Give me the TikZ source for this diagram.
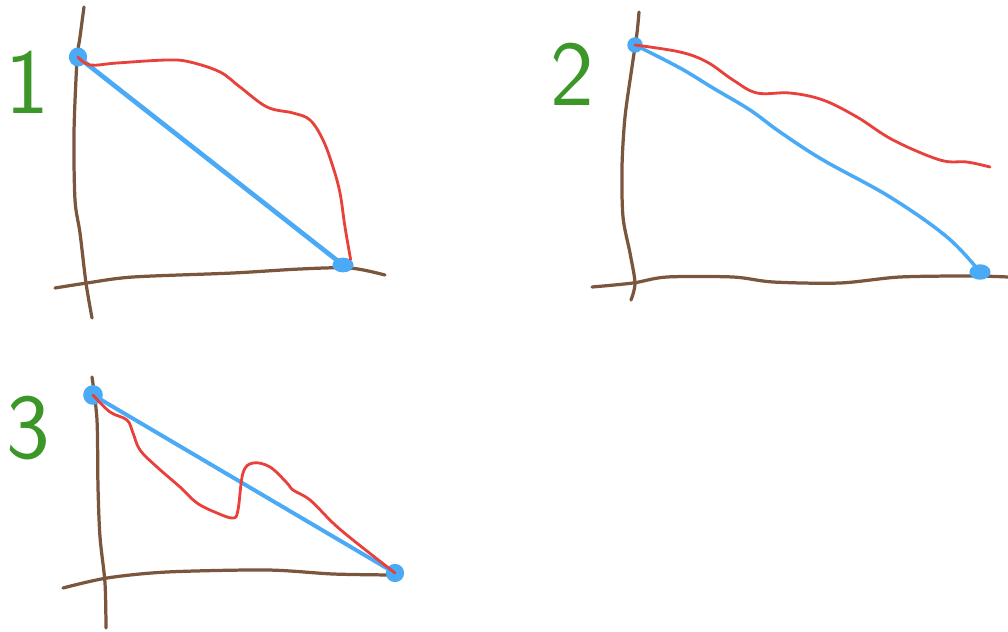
\documentclass[tikz,border=0pt]{standalone}
\usetikzlibrary{shapes.geometric}
\definecolor{axisbrown}{RGB}{122,86,60}
\definecolor{lineblue}{RGB}{74,170,245}
\definecolor{curvered}{RGB}{232,64,58}
\definecolor{numgreen}{RGB}{60,150,40}

\begin{document}
\begin{tikzpicture}[x=0.025cm,y=-0.025cm,
  axis/.style={draw=axisbrown,line width=2.3pt,line cap=round,line join=round},
  chord/.style={draw=lineblue,line width=3.3pt,line cap=round,line join=round},
  curve/.style={draw=curvered,line width=2pt,line cap=round,line join=round},
  enddot/.style={ellipse,fill=lineblue,inner sep=0pt},
  num/.style={text=numgreen,font=\sffamily\fontsize{66}{66}\selectfont}]
\useasboundingbox (0,0) rectangle (1008,632);

\node[num] (n1) at (27,82) {1};
\draw[axis] plot[smooth] coordinates {(84,7) (80,37) (77,60) (74,133) (75,200) (80,233) (86,283) (92,318)};
\draw[axis] plot[smooth] coordinates {(55,288) (87,283) (133,277) (233,273) (300,269) (350,268) (385,275)};
\node[enddot,minimum width=13pt,minimum height=13.5pt] (a1) at (78,57) {};
\node[enddot,minimum width=15pt,minimum height=10.5pt] (b1) at (343,265) {};
\draw[chord] (a1.center) -- (b1.center);
\draw[curve] plot[smooth,tension=0.6] coordinates {(a1.center) (90,65) (117,63) (167,60) (190,62) (220,72) (240,87) (267,107) (293,113) (310,120) (323,140) (333,167) (340,193) (345,227) (b1.north east)};

\node[num] (n2) at (572,74) {2};
\draw[axis] plot[smooth] coordinates {(639,12) (637,33) (632,67) (625,117) (622,167) (623,217) (630,253) (635,283) (631,300)};
\draw[axis] plot[smooth] coordinates {(592,287) (633,283) (667,277) (733,277) (773,282) (840,283) (900,277) (973,276) (1008,277)};
\node[enddot,minimum size=11pt] (a2) at (635,45) {};
\node[enddot,minimum width=15pt,minimum height=11pt] (b2) at (980,272) {};
\coordinate (e2) at (990,167);
\draw[chord,line width=2.5pt] plot[smooth,tension=0.6] coordinates {(a2.center) (680,68) (713,88) (750,110) (780,132) (823,160) (890,197) (947,237) (b2.center)};
\draw[curve] plot[smooth,tension=0.6] coordinates {(a2.center) (680,52) (707,62) (733,80) (757,93) (790,93) (823,100) (857,117) (893,140) (940,160) (967,162) (e2)};

\node[num] (n3) at (28,428) {3};
\draw[axis] plot[smooth] coordinates {(92,377) (97,420) (98,487) (100,537) (105,583) (106,628)};
\draw[axis] plot[smooth] coordinates {(63,588) (107,578) (167,572) (267,570) (333,574) (393,575)};
\node[enddot,minimum size=14pt] (a3) at (93,395) {};
\node[enddot,minimum size=13pt] (b3) at (395,573) {};
\draw[chord,line width=2.8pt] (a3.center) -- (b3.center);
\draw[curve] plot[smooth,tension=0.6] coordinates {(a3.center) (110,412) (127,420) (133,433) (140,450) (157,467) (180,487) (197,503) (217,513) (233,518) (238,510) (243,473) (253,463) (270,467) (287,483) (293,490) (310,500) (333,523) (353,540) (b3.center)};
\end{tikzpicture}
\end{document}
